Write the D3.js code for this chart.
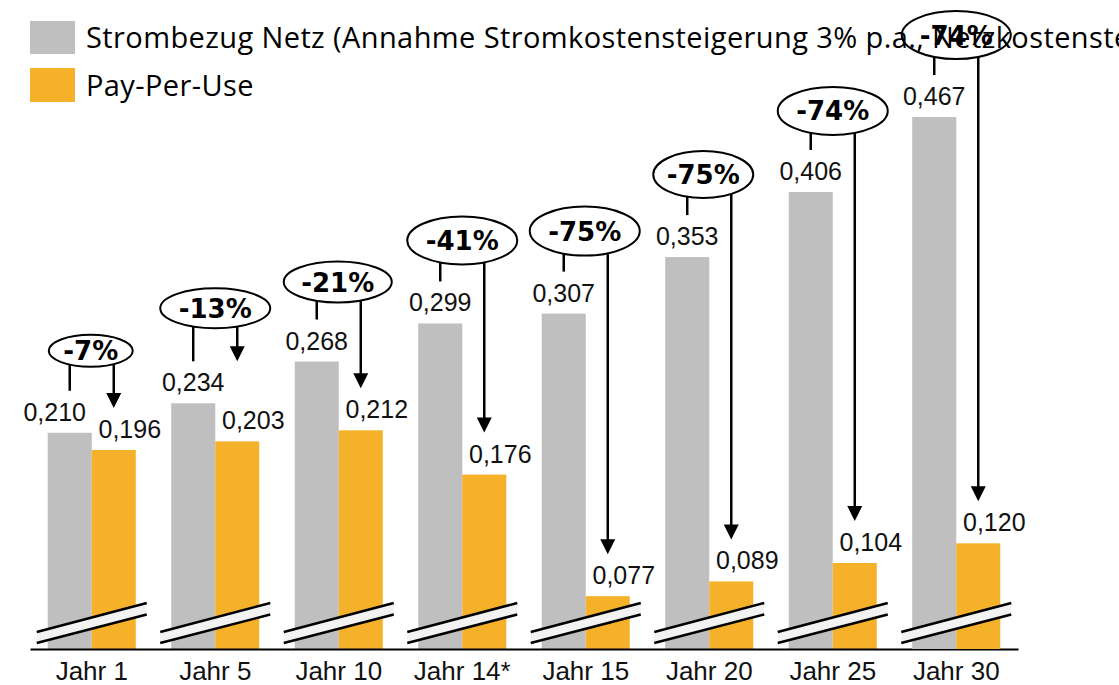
<!DOCTYPE html>
<html>
<head>
<meta charset="utf-8">
<script src="https://cdn.jsdelivr.net/npm/d3@7"></script>
<style>
  body { margin: 0; background: #fff; }
  svg { display: block; }
  .val { font-family: "Liberation Sans", Arial, sans-serif; font-size: 25px; fill: #111; }
  .pct { font-family: "DejaVu Sans", sans-serif; font-weight: bold; font-size: 26px; fill: #000; }
  .cat { font-family: "Liberation Sans", Arial, sans-serif; font-size: 26px; fill: #111; }
  .leg { font-family: "Open Sans", sans-serif; font-size: 29px; letter-spacing: 0.4px; fill: #000; }
</style>
</head>
<body>
<div id="chart"></div>
<script>
var categories = ["Jahr 1", "Jahr 5", "Jahr 10", "Jahr 14*", "Jahr 15", "Jahr 20", "Jahr 25", "Jahr 30"];
var netzValues = [0.210, 0.234, 0.268, 0.299, 0.307, 0.353, 0.406, 0.467];
var ppuValues = [0.196, 0.203, 0.212, 0.176, 0.077, 0.089, 0.104, 0.120];
var savingLabels = ["-7%", "-13%", "-21%", "-41%", "-75%", "-75%", "-74%", "-74%"];
var seriesNames = ["Strombezug Netz (Annahme Stromkostensteigerung 3% p.a., Netzkostensteigerung)", "Pay-Per-Use"];
var seriesColors = ["#BFBFBF", "#F6B12B"];

var width = 1119;
var height = 685;
var baseY = 649;

// callout shapes (hand placed in the original)
var legLen = [24, 33, 17, 17, 16, 17, 15, 16];
var ellRx = [42, 55, 54, 55, 55, 50, 55, 54.5];
var ellRy = [16, 20, 20.5, 24, 24.5, 23.5, 24, 24];
var ellDx = [-1, 0, -1, 0, -1, -6, 0, 0];

var svg = d3.select("#chart").append("svg")
    .attr("width", width)
    .attr("height", height);

var x0 = d3.scaleBand()
    .domain(categories)
    .range([30, 1018])
    .paddingInner(0.287)
    .paddingOuter(0.1435);

var x1 = d3.scaleBand()
    .domain([0, 1])
    .range([0, x0.bandwidth()]);

var y = d3.scaleLinear()
    .domain([0.034, 0.5])
    .range([baseY, 76.5]);

var fmt = function (v) { return d3.format(".3f")(v).replace(".", ","); };

var groups = svg.append("g").selectAll("g")
    .data(categories)
    .enter().append("g")
    .attr("transform", function (d) { return "translate(" + x0(d) + ",0)"; });

// bars
groups.append("rect")
    .attr("x", x1(0))
    .attr("width", x1.bandwidth())
    .attr("y", function (d, i) { return y(netzValues[i]); })
    .attr("height", function (d, i) { return baseY - y(netzValues[i]); })
    .attr("fill", seriesColors[0]);

groups.append("rect")
    .attr("x", x1(1))
    .attr("width", x1.bandwidth())
    .attr("y", function (d, i) { return y(ppuValues[i]); })
    .attr("height", function (d, i) { return baseY - y(ppuValues[i]); })
    .attr("fill", seriesColors[1]);

// value labels
groups.append("text")
    .attr("class", "val")
    .attr("text-anchor", "middle")
    .attr("x", function (d, i) { return x1(0) + x1.bandwidth() / 2 + (i === 0 ? -15 : 0); })
    .attr("y", function (d, i) { return y(netzValues[i]) - 12; })
    .text(function (d, i) { return fmt(netzValues[i]); });

groups.append("text")
    .attr("class", "val")
    .attr("text-anchor", "middle")
    .attr("x", x1(1) + x1.bandwidth() / 2 + 16)
    .attr("y", function (d, i) { return y(ppuValues[i]) - 12; })
    .text(function (d, i) { return fmt(ppuValues[i]); });

// axis break marks
var cx = x0.bandwidth() / 2;
groups.append("path")
    .attr("d", "M" + (cx - 55) + "," + (baseY - 17) + "L" + (cx + 55) + "," + (baseY - 46) +
        "L" + (cx + 55) + "," + (baseY - 34.5) + "L" + (cx - 55) + "," + (baseY - 6) + "Z")
    .attr("fill", "#F2F2F2");
groups.append("line")
    .attr("x1", cx - 55).attr("y1", baseY - 17)
    .attr("x2", cx + 55).attr("y2", baseY - 46)
    .attr("stroke", "#000").attr("stroke-width", 2.5);
groups.append("line")
    .attr("x1", cx - 55).attr("y1", baseY - 6)
    .attr("x2", cx + 55).attr("y2", baseY - 34.5)
    .attr("stroke", "#000").attr("stroke-width", 2.5);

// x axis
var xAxis = d3.axisBottom(x0).tickSize(0).tickPadding(0);
var axisG = svg.append("g")
    .attr("transform", "translate(0," + baseY + ")")
    .call(xAxis);
axisG.attr("font-family", null).attr("font-size", null);
axisG.select(".domain").attr("stroke", "#000").attr("stroke-width", 2);
axisG.selectAll(".tick text")
    .attr("class", "cat")
    .attr("dy", null)
    .attr("y", 31);

// callouts
groups.each(function (d, i) {
    var g = d3.select(this);
    var ex = cx + ellDx[i];
    var bottom = y(netzValues[i]) - 42 - legLen[i];
    var ey = bottom - ellRy[i];
    var rx = ellRx[i], ry = ellRy[i];
    var edge = function (px) {
        var t = (px - ex) / rx;
        return ey + ry * Math.sqrt(Math.max(0, 1 - t * t));
    };

    var lx = x1(0) + x1.bandwidth() / 2;
    var ax = x1(1) + x1.bandwidth() / 2;
    var legEnd = y(netzValues[i]) - 42;
    var tip = i === 1 ? legEnd : y(ppuValues[i]) - 42;

    g.append("line")
        .attr("x1", lx).attr("y1", edge(lx))
        .attr("x2", lx).attr("y2", legEnd)
        .attr("stroke", "#000").attr("stroke-width", 2.5);

    g.append("line")
        .attr("x1", ax).attr("y1", edge(ax))
        .attr("x2", ax).attr("y2", tip - 14)
        .attr("stroke", "#000").attr("stroke-width", 2.5);

    g.append("path")
        .attr("d", "M" + ax + "," + tip + "L" + (ax - 7.5) + "," + (tip - 15) + "L" + (ax + 7.5) + "," + (tip - 15) + "Z")
        .attr("fill", "#000");

    g.append("ellipse")
        .attr("cx", ex).attr("cy", ey)
        .attr("rx", rx).attr("ry", ry)
        .attr("fill", "none")
        .attr("stroke", "#000").attr("stroke-width", 2);

    g.append("text")
        .attr("class", "pct")
        .attr("text-anchor", "middle")
        .attr("x", ex)
        .attr("y", ey + 9.5)
        .text(savingLabels[i]);
});

// legend
var legend = svg.append("g").attr("class", "legend");
legend.append("rect").attr("x", 30).attr("y", 21).attr("width", 45).attr("height", 33).attr("fill", seriesColors[0]);
legend.append("rect").attr("x", 30).attr("y", 68).attr("width", 45).attr("height", 34).attr("fill", seriesColors[1]);
legend.append("text").attr("class", "leg").attr("x", 86).attr("y", 48).text(seriesNames[0]);
legend.append("text").attr("class", "leg").attr("x", 86).attr("y", 96).text(seriesNames[1]);

// the last callout sits above the legend text
svg.node().appendChild(groups.nodes()[7]);
</script>
</body>
</html>
